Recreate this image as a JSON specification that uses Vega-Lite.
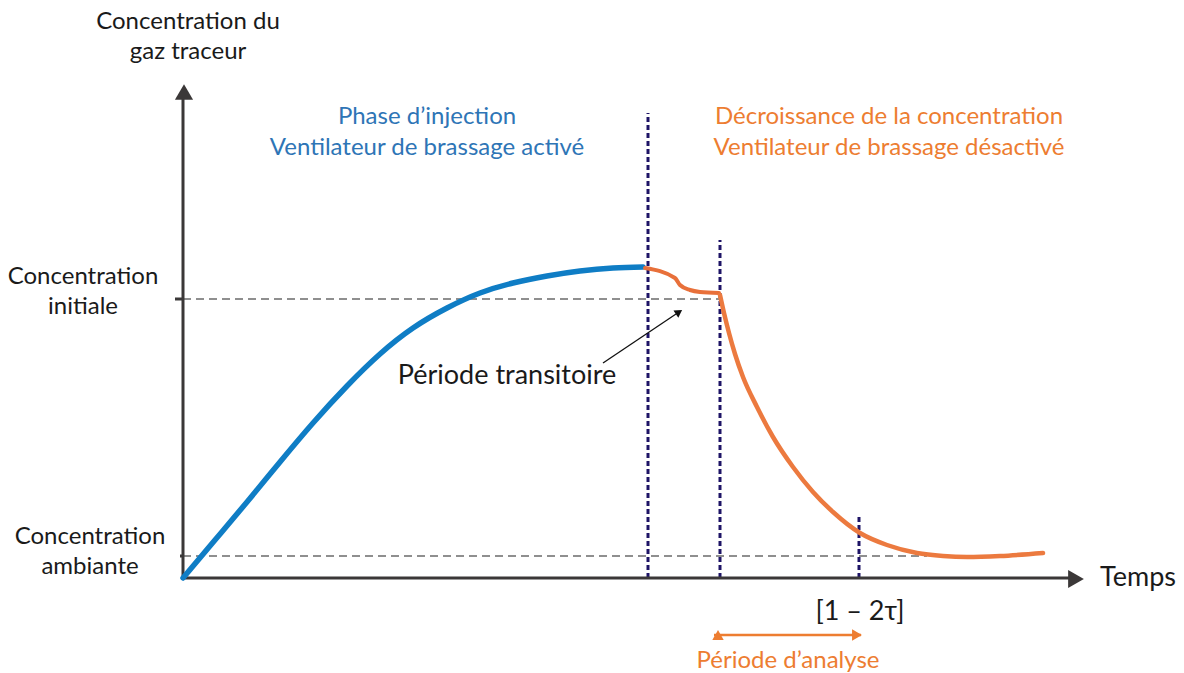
{
  "$schema": "https://vega.github.io/schema/vega-lite/v6.json",
  "width": 1184,
  "height": 673,
  "autosize": {"type": "fit", "contains": "padding"},
  "padding": 0,
  "background": "white",
  "config": {"view": {"stroke": null}, "font": "Lato"},
  "datasets": {
    "injection": [
      {"x": 0, "y": 0}, {"x": 32, "y": 38}, {"x": 64, "y": 76}, {"x": 97, "y": 116}, {"x": 130, "y": 155},
      {"x": 164, "y": 192}, {"x": 197, "y": 224}, {"x": 230, "y": 250}, {"x": 264, "y": 270},
      {"x": 297, "y": 285}, {"x": 330, "y": 295}, {"x": 364, "y": 302}, {"x": 397, "y": 307},
      {"x": 430, "y": 310}, {"x": 460, "y": 311}
    ],
    "transition": [
      {"x": 462, "y": 310}, {"x": 492, "y": 300}, {"x": 497, "y": 293}, {"x": 507, "y": 288},
      {"x": 517, "y": 286}, {"x": 536, "y": 285}
    ],
    "decay": [
      {"x": 537, "y": 283}, {"x": 541, "y": 265}, {"x": 546, "y": 245}, {"x": 552, "y": 224},
      {"x": 560, "y": 201}, {"x": 574, "y": 171}, {"x": 590, "y": 141}, {"x": 610, "y": 111},
      {"x": 630, "y": 86}, {"x": 650, "y": 66}, {"x": 677, "y": 45}, {"x": 704, "y": 33},
      {"x": 734, "y": 25}, {"x": 760, "y": 22}, {"x": 784, "y": 21}, {"x": 817, "y": 22}, {"x": 860, "y": 25}
    ],
    "levels": [
      {"x": 0, "y": 279, "x2": 537, "y2": 279},
      {"x": 0, "y": 22, "x2": 744, "y2": 22}
    ],
    "markers": [
      {"x": 465, "y": 0, "x2": 465, "y2": 465},
      {"x": 537, "y": 0, "x2": 537, "y2": 338},
      {"x": 676, "y": 0, "x2": 676, "y2": 63}
    ],
    "axes": [
      {"x": 0, "y": 0, "x2": 0, "y2": 480},
      {"x": 0, "y": 0, "x2": 890, "y2": 0},
      {"x": -8, "y": 279, "x2": 0, "y2": 279},
      {"x": -3, "y": 22, "x2": 0, "y2": 22}
    ],
    "axisHeads": [
      {"x": 1, "y": 486, "end": "vertical"},
      {"x": 893, "y": -1, "end": "horizontal"}
    ],
    "pointer": [{"x": 420, "y": 215, "x2": 496, "y2": 266}],
    "pointerHead": [{"x": 496, "y": 266}],
    "analysis": [{"x": 531, "y": -57, "x2": 678, "y2": -57}],
    "analysisHeads": [
      {"x": 535, "y": -57, "end": "start"},
      {"x": 674, "y": -57, "end": "stop"}
    ],
    "labels": [
      {"x": 5, "y": 556, "t": "Concentration du", "g": "axis"},
      {"x": 5, "y": 526, "t": "gaz traceur", "g": "axis"},
      {"x": -100, "y": 301, "t": "Concentration", "g": "axis"},
      {"x": -100, "y": 271, "t": "initiale", "g": "axis"},
      {"x": -93, "y": 41, "t": "Concentration", "g": "axis"},
      {"x": -93, "y": 11, "t": "ambiante", "g": "axis"},
      {"x": 244, "y": 461, "t": "Phase d’injection", "g": "injection"},
      {"x": 244, "y": 430, "t": "Ventilateur de brassage activé", "g": "injection"},
      {"x": 706, "y": 461, "t": "Décroissance de la concentration", "g": "decay"},
      {"x": 706, "y": 430, "t": "Ventilateur de brassage désactivé", "g": "decay"},
      {"x": 605, "y": -83, "t": "Période d’analyse", "g": "decay"}
    ],
    "bigLabels": [
      {"x": 324, "y": 202, "t": "Période transitoire", "g": "axis"},
      {"x": 677, "y": -34, "t": "[1 – 2τ]", "g": "axis"},
      {"x": 955, "y": 0, "t": "Temps", "g": "axis"}
    ]
  },
  "encoding": {
    "x": {"field": "x", "type": "quantitative", "scale": {"domain": [-183, 1001], "nice": false, "zero": false}, "axis": null},
    "y": {"field": "y", "type": "quantitative", "scale": {"domain": [-95, 578], "nice": false, "zero": false}, "axis": null}
  },
  "layer": [
    {
      "data": {"name": "levels"},
      "mark": {"type": "rule", "color": "#6b6b6b", "strokeWidth": 1.7, "strokeDash": [8, 5]},
      "encoding": {"x2": {"field": "x2"}, "y2": {"field": "y2"}}
    },
    {
      "data": {"name": "markers"},
      "mark": {"type": "rule", "color": "#1e1466", "strokeWidth": 3, "strokeDash": [5, 3]},
      "encoding": {"x2": {"field": "x2"}, "y2": {"field": "y2"}}
    },
    {
      "data": {"name": "axes"},
      "mark": {"type": "rule", "color": "#3b3838", "strokeWidth": 3},
      "encoding": {"x2": {"field": "x2"}, "y2": {"field": "y2"}}
    },
    {
      "data": {"name": "axisHeads"},
      "mark": {"type": "point", "filled": true, "color": "#3b3838", "opacity": 1, "size": 330},
      "encoding": {
        "shape": {"field": "end", "type": "nominal", "scale": {"domain": ["vertical", "horizontal"], "range": ["triangle-up", "triangle-right"]}, "legend": null}
      }
    },
    {
      "data": {"name": "injection"},
      "mark": {"type": "line", "color": "#0f7dc5", "strokeWidth": 5.5, "strokeCap": "round", "interpolate": "natural"},
      "encoding": {}
    },
    {
      "data": {"name": "transition"},
      "mark": {"type": "line", "color": "#e8703a", "strokeWidth": 4, "strokeCap": "round", "interpolate": "monotone"},
      "encoding": {}
    },
    {
      "data": {"name": "decay"},
      "mark": {"type": "line", "color": "#ec7a3f", "strokeWidth": 4.5, "strokeCap": "round", "interpolate": "monotone"},
      "encoding": {}
    },
    {
      "data": {"name": "pointer"},
      "mark": {"type": "rule", "color": "#111111", "strokeWidth": 1.3},
      "encoding": {"x2": {"field": "x2"}, "y2": {"field": "y2"}}
    },
    {
      "data": {"name": "pointerHead"},
      "mark": {"type": "point", "shape": "triangle-up", "filled": true, "color": "#111111", "opacity": 1, "size": 75, "angle": 56},
      "encoding": {}
    },
    {
      "data": {"name": "analysis"},
      "mark": {"type": "rule", "color": "#ed7d31", "strokeWidth": 2.5},
      "encoding": {"x2": {"field": "x2"}, "y2": {"field": "y2"}}
    },
    {
      "data": {"name": "analysisHeads"},
      "mark": {"type": "point", "filled": true, "color": "#ed7d31", "opacity": 1, "size": 130},
      "encoding": {
        "shape": {"field": "end", "type": "nominal", "scale": {"domain": ["start", "stop"], "range": ["triangle-left", "triangle-right"]}, "legend": null}
      }
    },
    {
      "data": {"name": "labels"},
      "mark": {"type": "text", "fontSize": 24, "align": "center", "baseline": "middle"},
      "encoding": {
        "text": {"field": "t"},
        "color": {"field": "g", "type": "nominal", "scale": {"domain": ["axis", "injection", "decay"], "range": ["#1a1a1a", "#2e75b6", "#ed7d31"]}, "legend": null}
      }
    },
    {
      "data": {"name": "bigLabels"},
      "mark": {"type": "text", "fontSize": 27, "align": "center", "baseline": "middle", "color": "#1a1a1a"},
      "encoding": {
        "text": {"field": "t"}
      }
    }
  ]
}
